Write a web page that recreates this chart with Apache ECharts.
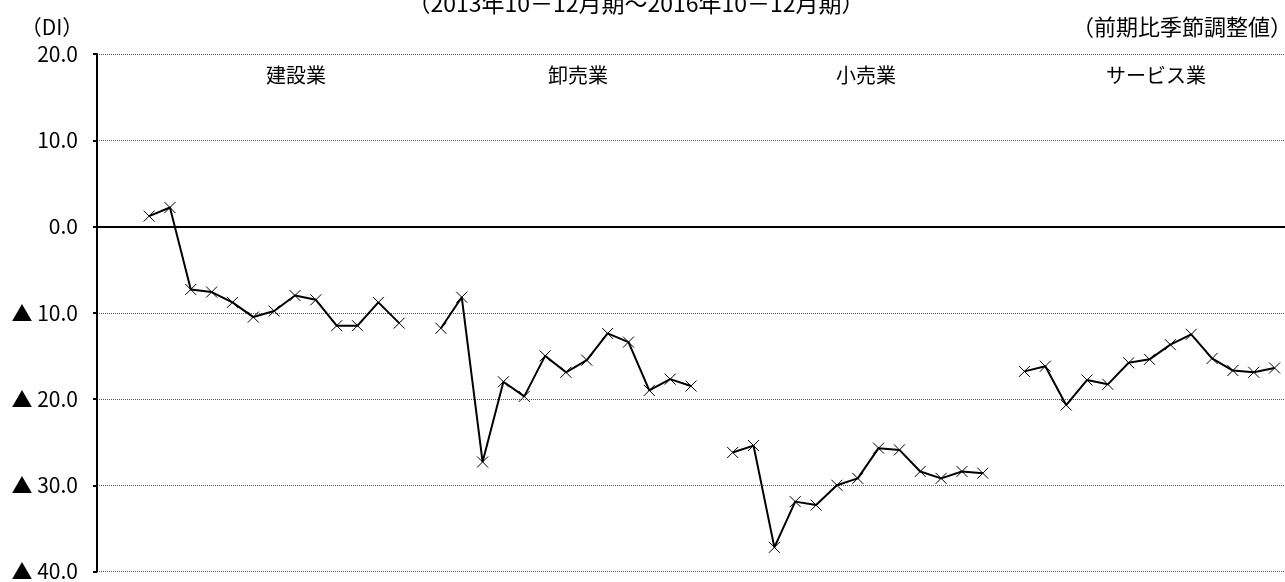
<!DOCTYPE html>
<html><head><meta charset="utf-8">
<script src="https://cdn.jsdelivr.net/npm/echarts@6/dist/echarts.min.js"></script>
<style>html,body{margin:0;padding:0;background:#fff}#c{width:1285px;height:582px}</style>
</head><body><div id="c"></div>
<script>
const industries = ['建設業', '卸売業', '小売業', 'サービス業'];
const quarters = ['2013Q4','2014Q1','2014Q2','2014Q3','2014Q4','2015Q1','2015Q2','2015Q3','2015Q4','2016Q1','2016Q2','2016Q3','2016Q4'];
const construction = [1.2, 2.2, -7.3, -7.6, -8.8, -10.5, -9.8, -8.0, -8.5, -11.5, -11.5, -8.8, -11.2];
const wholesale = [-11.8, -8.2, -27.3, -18.0, -19.7, -15.0, -16.9, -15.5, -12.4, -13.4, -19.0, -17.7, -18.5];
const retail = [-26.2, -25.4, -37.2, -31.9, -32.3, -30.0, -29.2, -25.7, -25.9, -28.4, -29.2, -28.4, -28.6];
const services = [-16.8, -16.2, -20.7, -17.8, -18.3, -15.8, -15.4, -13.7, -12.5, -15.3, -16.7, -16.9, -16.4];
const yTicks = [-40, -30, -20, -10, 0, 10, 20];

const seriesVals = [construction, wholesale, retail, services];
const LEAD = 2, GAP = 1;
const cats = [];
for (let i = 0; i < LEAD; i++) cats.push('pad' + i);
industries.forEach((ind, k) => {
  quarters.forEach(q => cats.push(ind + q));
  if (k < industries.length - 1) for (let g = 0; g < GAP; g++) cats.push('gap' + k + g);
});
const series = seriesVals.map((vals, k) => {
  const data = cats.map(() => null);
  const start = LEAD + k * (quarters.length + GAP);
  vals.forEach((v, i) => { data[start + i] = v; });
  return {
    name: industries[k], type: 'line', data: data,
    symbol: 'path://M0,0L10,10M10,0L0,10', symbolSize: 11,
    itemStyle: { color: 'rgba(0,0,0,0)', borderColor: '#000', borderWidth: 1 },
    lineStyle: { color: '#000', width: 2 },
    connectNulls: false, animation: false
  };
});

const FONT = '"Noto Sans CJK JP", "Liberation Sans", sans-serif';
const txt = (x, y, text, size, align) => ({
  type: 'text', x: x, y: y,
  style: { text: text, font: size + 'px ' + FONT, fill: '#000', align: align || 'center', verticalAlign: 'middle' }
});
const chart = echarts.init(document.getElementById('c'));
chart.setOption({
  animation: false,
  grid: { left: 97, right: 0, top: 54, bottom: 8, containLabel: false },
  xAxis: {
    type: 'category', data: cats, boundaryGap: true,
    axisLine: { onZero: true, lineStyle: { color: '#000', width: 2 } },
    axisTick: { show: false }, axisLabel: { show: false }, splitLine: { show: false }
  },
  yAxis: {
    type: 'value', min: -40, max: 20, interval: 10,
    axisLine: { show: true, lineStyle: { color: '#000', width: 2 } },
    axisTick: { show: true, length: 4, lineStyle: { color: '#000', width: 2 } },
    axisLabel: {
      color: '#000', fontSize: 21, fontFamily: FONT, margin: 19,
      formatter: v => v < 0 ? '▲ ' + Math.abs(v).toFixed(1) : v.toFixed(1)
    },
    splitLine: { show: true, lineStyle: { color: '#555', width: 1, type: [1, 1] } }
  },
  graphic: [
    txt(636, 3, '（2013年10－12月期～2016年10－12月期）', 23),
    txt(52, 27, '（DI）', 21),
    txt(1292, 27, '（前期比季節調整値）', 22, 'right'),
    txt(296, 75, industries[0], 20),
    txt(578, 75, industries[1], 20),
    txt(866, 75, industries[2], 20),
    txt(1156, 75, industries[3], 20)
  ],
  series: series
});
</script></body></html>
